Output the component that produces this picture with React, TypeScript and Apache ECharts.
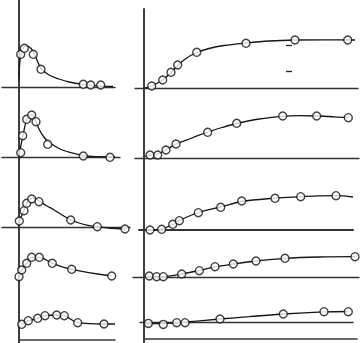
import React, { useEffect, useRef } from "react";
import * as echarts from "echarts";

type P = [number, number];

// ---- observed points (time, level) per panel ----
const obsL1: P[] = [[0.17, 3.27], [0.53, 3.87], [1.43, 3.27], [2.2, 1.77], [6.43, 0.27], [7.17, 0.2], [8.17, 0.2]];
const obsL2: P[] = [[0.17, 0.43], [0.37, 2.13], [0.77, 3.77], [1.27, 4.2], [1.7, 3.53], [2.87, 1.27], [6.43, 0.1], [9.1, -0.03]];
const obsL3: P[] = [[0.03, 0.6], [0.5, 1.63], [0.77, 2.37], [1.27, 2.8], [2.0, 2.53], [5.17, 0.7], [7.83, 0.03], [10.6, -0.2]];
const obsL4: P[] = [[0, 0.33], [0.27, 1.0], [0.77, 1.67], [1.27, 2.27], [2.03, 2.27], [3.33, 1.67], [5.27, 1.07], [9.27, 0.4]];
const obsL5: P[] = [[0.27, 0.57], [0.93, 0.93], [1.87, 1.17], [2.6, 1.43], [3.77, 1.5], [4.53, 1.43], [5.87, 0.73], [8.5, 0.6]];
const obsR1: P[] = [[0.77, 0.2], [1.87, 0.8], [2.7, 1.57], [3.37, 2.3], [5.27, 3.57], [10.2, 4.47], [15.1, 4.8], [20.37, 4.8]];
const obsR2: P[] = [[0.6, 0.3], [1.37, 0.3], [2.2, 0.8], [3.2, 1.4], [6.37, 2.57], [9.27, 3.47], [13.87, 4.2], [17.27, 4.2], [20.43, 4.03]];
const obsR3: P[] = [[0.6, 0], [1.77, 0.07], [2.87, 0.57], [3.53, 0.93], [5.43, 1.73], [7.67, 2.27], [9.77, 2.9], [13.1, 3.17], [15.67, 3.33], [19.2, 3.43]];
const obsR4: P[] = [[0.53, 0.1], [1.27, 0.03], [1.93, 0.03], [3.77, 0.3], [5.53, 0.63], [7.1, 1.03], [8.93, 1.3], [11.2, 1.6], [14.1, 1.87], [21.1, 2.03]];
const obsR5: P[] = [[0.43, -0.07], [1.93, -0.17], [3.27, 0], [4.1, 0], [7.6, 0.37], [13.93, 0.87], [18.0, 1.1], [20.43, 1.1]];

// ---- fitted curves ----
const fitL1: P[] = [[0, 0.8], [0.15, 3.1], [0.45, 3.95], [0.8, 4.12], [1.2, 3.85], [1.5, 3.4], [1.8, 2.7], [2.2, 1.85], [3.0, 1.2], [4.0, 0.8], [5.0, 0.5], [6.4, 0.27], [8.0, 0.12], [9.4, 0.05]];
const fitL2: P[] = [[0, 0.3], [0.2, 1.2], [0.4, 2.2], [0.75, 3.7], [1.0, 4.1], [1.27, 4.25], [1.5, 4.0], [1.75, 3.4], [2.05, 2.7], [2.45, 2.05], [2.9, 1.55], [4.0, 0.85], [4.8, 0.55], [6.4, 0.15], [8.0, 0.03], [9.6, 0]];
const fitL3: P[] = [[0, 0.6], [0.5, 1.65], [0.77, 2.35], [1.1, 2.8], [1.4, 2.9], [2.0, 2.6], [2.8, 2.1], [3.45, 1.75], [4.3, 1.2], [5.17, 0.72], [6.0, 0.4], [6.8, 0.18], [7.8, 0.03], [9.0, -0.1], [10.6, -0.2]];
const fitL4: P[] = [[0, 0.33], [0.27, 1.0], [0.77, 1.67], [1.27, 2.27], [2.03, 2.27], [3.33, 1.67], [5.27, 1.07], [9.27, 0.4]];
const fitL5: P[] = [[0.27, 0.57], [0.93, 0.93], [1.87, 1.17], [2.6, 1.43], [3.77, 1.5], [4.53, 1.43], [5.87, 0.73], [8.5, 0.6], [9.6, 0.6]];
const fitR1: P[] = [[0.1, 0], [0.77, 0.2], [1.87, 0.8], [2.7, 1.55], [3.37, 2.25], [4.2, 2.95], [5.27, 3.55], [6.5, 3.95], [8.0, 4.25], [10.2, 4.5], [12.5, 4.7], [15.1, 4.8], [18.0, 4.82], [21.1, 4.8]];
const fitR2: P[] = [[0.1, 0.15], [0.6, 0.3], [1.37, 0.4], [2.2, 0.8], [3.2, 1.4], [4.8, 2.0], [6.37, 2.6], [7.8, 3.05], [9.27, 3.45], [11.5, 3.9], [13.87, 4.17], [15.5, 4.23], [17.27, 4.2], [19.0, 4.12], [20.43, 4.03]];
const fitR3: P[] = [[0.5, 0], [1.77, 0.1], [2.87, 0.55], [3.53, 0.95], [5.43, 1.75], [7.67, 2.3], [9.77, 2.85], [13.1, 3.18], [15.67, 3.33], [17.5, 3.42], [19.2, 3.43], [20.9, 3.3]];
const fitR4: P[] = [[0.3, 0.07], [1.27, 0.03], [1.93, 0.03], [3.77, 0.3], [5.53, 0.65], [7.1, 1.02], [8.93, 1.3], [11.2, 1.6], [14.1, 1.87], [17.5, 2.0], [21.1, 2.03]];
const fitR5: P[] = [[0, -0.1], [0.43, -0.08], [1.93, -0.08], [3.27, 0], [4.1, 0.05], [7.6, 0.37], [10.5, 0.6], [13.93, 0.87], [18.0, 1.08], [20.43, 1.12]];

// small dash marks in the first right panel: [x0, x1, y]
const marksR1: [number, number, number][] = [[14.2, 14.8, 4.3], [14.2, 14.8, 1.7]];

// ---- layout (pixels) ----
const S = 10; // px per data unit
type Layout = { obs: P[]; fit: P[]; axisX: number; base: number; x0: number; x1: number; line: boolean; lw: number; marks?: [number, number, number][] };
const panels: Layout[] = [
  { obs: obsL1, fit: fitL1, axisX: 19, base: 87, x0: 2, x1: 115, line: true, lw: 1.4 },
  { obs: obsL2, fit: fitL2, axisX: 19, base: 157, x0: 2, x1: 120, line: true, lw: 1.4 },
  { obs: obsL3, fit: fitL3, axisX: 19, base: 227, x0: 2, x1: 130, line: true, lw: 1.4 },
  { obs: obsL4, fit: fitL4, axisX: 19, base: 280, x0: 19, x1: 130, line: false, lw: 1.4 },
  { obs: obsL5, fit: fitL5, axisX: 19, base: 330, x0: 19, x1: 130, line: false, lw: 1.4 },
  { obs: obsR1, fit: fitR1, axisX: 144, base: 88, x0: 135, x1: 358, line: true, lw: 1.4, marks: marksR1 },
  { obs: obsR2, fit: fitR2, axisX: 144, base: 158, x0: 135, x1: 359, line: true, lw: 1.4 },
  { obs: obsR3, fit: fitR3, axisX: 144, base: 230, x0: 139, x1: 353, line: true, lw: 2 },
  { obs: obsR4, fit: fitR4, axisX: 144, base: 277, x0: 133, x1: 359, line: true, lw: 1.4 },
  { obs: obsR5, fit: fitR5, axisX: 144, base: 322.7, x0: 140, x1: 353, line: true, lw: 1.4 },
];
const YMAX = 6;

const hidden = { axisLabel: { show: false }, axisTick: { show: false }, splitLine: { show: false } };

export default function App() {
  const ref = useRef<HTMLDivElement>(null);
  useEffect(() => {
    if (!ref.current) return;
    const chart = echarts.init(ref.current, undefined, { renderer: "svg" });
    const grids: any[] = [];
    const xAxes: any[] = [];
    const yAxes: any[] = [];
    const series: any[] = [];

    // column frames
    const frames = [
      { left: 19, top: 0, width: 96, height: 343, ymin: -0.3, ymax: 34 },
      { left: 144, top: 9, width: 213, height: 334, ymin: -0.4, ymax: 33 },
    ];
    frames.forEach((f) => {
      const i = grids.length;
      grids.push({ left: f.left, top: f.top, width: f.width, height: f.height, containLabel: false });
      xAxes.push({ type: "value", gridIndex: i, min: 0, max: f.width / S, axisLine: { show: true, onZero: true, lineStyle: { color: "#3a3a3a", width: 1.6 } }, ...hidden });
      yAxes.push({ type: "value", gridIndex: i, min: f.ymin, max: f.ymax, axisLine: { show: true, lineStyle: { color: "#2a2a2a", width: 1.8 } }, ...hidden });
    });

    panels.forEach((p) => {
      const i = grids.length;
      grids.push({ left: p.x0, top: p.base - YMAX * S, width: p.x1 - p.x0, height: YMAX * S, containLabel: false });
      xAxes.push({
        type: "value", gridIndex: i, min: (p.x0 - p.axisX) / S, max: (p.x1 - p.axisX) / S,
        axisLine: { show: p.line, onZero: false, lineStyle: { color: "#333", width: p.lw } }, ...hidden,
      });
      yAxes.push({ type: "value", gridIndex: i, min: 0, max: YMAX, show: false, ...hidden });
      series.push({
        type: "line", xAxisIndex: i, yAxisIndex: i, data: p.fit, showSymbol: false, symbol: "none",
        smooth: 0.35, clip: false, lineStyle: { color: "#151515", width: 1.3 }, z: 2, silent: true,
        markLine: p.marks ? {
          silent: true, symbol: ["none", "none"], label: { show: false },
          lineStyle: { color: "#222", width: 1.3, type: "solid" },
          data: p.marks.map((m) => [{ coord: [m[0], m[2]] }, { coord: [m[1], m[2]] }]),
        } : undefined,
      });
      series.push({
        type: "scatter", xAxisIndex: i, yAxisIndex: i, data: p.obs, symbol: "circle", symbolSize: 8,
        clip: false, itemStyle: { color: "#ffffff", borderColor: "#111", borderWidth: 1.4 }, z: 3, silent: true,
      });
    });

    chart.setOption({ animation: false, backgroundColor: "#ffffff", grid: grids, xAxis: xAxes, yAxis: yAxes, series });
    return () => chart.dispose();
  }, []);
  return <div ref={ref} style={{ position: "fixed", left: 0, top: 0, width: 360, height: 343 }} />;
}
